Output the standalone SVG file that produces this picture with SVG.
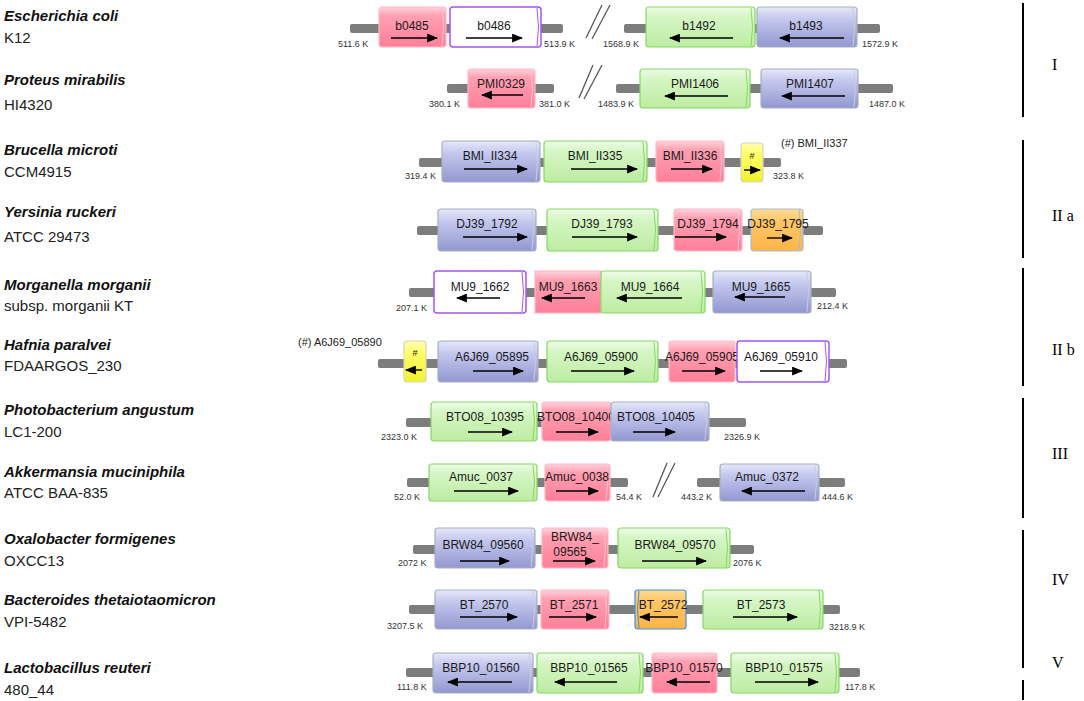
<svg xmlns="http://www.w3.org/2000/svg" width="1084" height="701" viewBox="0 0 1084 701">
<defs>
<linearGradient id="gPink" x1="0" y1="0" x2="0" y2="1"><stop offset="0" stop-color="#ffd3dc"/><stop offset="0.22" stop-color="#ffa0b2"/><stop offset="1" stop-color="#ff7f98"/></linearGradient>
<linearGradient id="gGreen" x1="0" y1="0" x2="0" y2="1"><stop offset="0" stop-color="#effce8"/><stop offset="0.25" stop-color="#d6f6c5"/><stop offset="1" stop-color="#bdeca2"/></linearGradient>
<linearGradient id="gBlue" x1="0" y1="0" x2="0" y2="1"><stop offset="0" stop-color="#e6e8f8"/><stop offset="0.3" stop-color="#c4c8ee"/><stop offset="1" stop-color="#9297d0"/></linearGradient>
<linearGradient id="gOrange" x1="0" y1="0" x2="0" y2="1"><stop offset="0" stop-color="#ffdb94"/><stop offset="0.3" stop-color="#ffc665"/><stop offset="1" stop-color="#ffb447"/></linearGradient>
<linearGradient id="gYellow" x1="0" y1="0" x2="0" y2="1"><stop offset="0" stop-color="#ffffb0"/><stop offset="0.3" stop-color="#ffff66"/><stop offset="1" stop-color="#f2f22e"/></linearGradient>
<marker id="ah" viewBox="0 0 10 8" refX="9" refY="4" markerWidth="11" markerHeight="9" markerUnits="userSpaceOnUse" orient="auto"><path d="M0,0 L10,4 L0,8 z" fill="#000"/></marker>
<style>
.bb{fill:#7d7d7d}
.gene rect{stroke-width:1.2}
.gene .cap{fill:none;stroke-width:1}
.pink rect{fill:url(#gPink);stroke:#ffb8c7}
.pink .cap{stroke:#ffc4d0}
.green rect{fill:url(#gGreen);stroke:#86d862}
.green .cap{stroke:#86d862}
.blue rect{fill:url(#gBlue);stroke:#a6aec0}
.blue .cap{stroke:#c8cde0}
.orange rect{fill:url(#gOrange);stroke:#a9bcd0}
.orange .cap{stroke:#a9bcd0}
.orangeb rect{fill:url(#gOrange);stroke:#3d8fe0}
.orangeb .cap{stroke:#3d8fe0}
.yellow rect{fill:url(#gYellow);stroke:#d4d4c0}
.white rect{fill:#fff;stroke:#a455f0;stroke-width:1.5}
.white .cap{stroke:#a455f0}
.arr{stroke:#000;stroke-width:1.4;marker-end:url(#ah)}
.lbl{font-family:"Liberation Sans",Arial,sans-serif;font-size:12px;fill:#1a1a1a;text-anchor:middle}
.hs{font-family:"Liberation Sans",Arial,sans-serif;fill:#222;text-anchor:middle}
.pos{font-family:"Liberation Sans",Arial,sans-serif;font-size:9px;fill:#333}
.note{font-family:"Liberation Sans",Arial,sans-serif;font-size:11px;fill:#222}
.sp{font-family:"Liberation Sans",Arial,sans-serif;font-size:15px;font-weight:bold;font-style:italic;fill:#111}
.st{font-family:"Liberation Sans",Arial,sans-serif;font-size:15px;fill:#222}
.slash{stroke:#555;stroke-width:1.3}
.brk{stroke:#000;stroke-width:2}
.rom{font-family:"Liberation Serif","Times New Roman",serif;font-size:16px;fill:#000}
</style>
</defs>

<g id="species">
<text class="sp" x="4" y="21">Escherichia coli</text><text class="st" x="4" y="43">K12</text>
<text class="sp" x="4" y="85">Proteus mirabilis</text><text class="st" x="4" y="110">HI4320</text>
<text class="sp" x="4" y="155">Brucella microti</text><text class="st" x="4" y="177">CCM4915</text>
<text class="sp" x="4" y="217">Yersinia ruckeri</text><text class="st" x="4" y="242">ATCC 29473</text>
<text class="sp" x="4" y="290">Morganella  morganii</text><text class="st" x="4" y="311">subsp. morganii KT</text>
<text class="sp" x="4" y="350">Hafnia paralvei</text><text class="st" x="4" y="371">FDAARGOS_230</text>
<text class="sp" x="4" y="415">Photobacterium angustum</text><text class="st" x="4" y="437">LC1-200</text>
<text class="sp" x="4" y="477">Akkermansia muciniphila</text><text class="st" x="4" y="498">ATCC BAA-835</text>
<text class="sp" x="4" y="544">Oxalobacter formigenes</text><text class="st" x="4" y="566">OXCC13</text>
<text class="sp" x="4" y="605">Bacteroides thetaiotaomicron</text><text class="st" x="4" y="627">VPI-5482</text>
<text class="sp" x="4" y="673">Lactobacillus reuteri</text><text class="st" x="4" y="695">480_44</text>
</g>

<g id="connectors">
<rect class="bb" x="350" y="24" width="213" height="9" rx="2"/>
<rect class="bb" x="624" y="24" width="256" height="9" rx="2"/>
<rect class="bb" x="447" y="84" width="107" height="9" rx="2"/>
<rect class="bb" x="616" y="84" width="277" height="9" rx="2"/>
<rect class="bb" x="419" y="158" width="362" height="9" rx="2"/>
<rect class="bb" x="417" y="226" width="406" height="9" rx="2"/>
<rect class="bb" x="409" y="288" width="427" height="9" rx="2"/>
<rect class="bb" x="378" y="359" width="469" height="9" rx="2"/>
<rect class="bb" x="406" y="418" width="340" height="9" rx="2"/>
<rect class="bb" x="407" y="478" width="221" height="9" rx="2"/>
<rect class="bb" x="697" y="478" width="148" height="9" rx="2"/>
<rect class="bb" x="413" y="545" width="341" height="9" rx="2"/>
<rect class="bb" x="409" y="605" width="431" height="9" rx="2"/>
<rect class="bb" x="406" y="668" width="454" height="9" rx="2"/>
<line class="slash" x1="586" y1="38" x2="602" y2="5"/><line class="slash" x1="592" y1="39" x2="610" y2="5"/>
<line class="slash" x1="579" y1="98" x2="593" y2="65"/><line class="slash" x1="584" y1="99" x2="602" y2="65"/>
<line class="slash" x1="653" y1="497" x2="667" y2="463"/><line class="slash" x1="658" y1="497" x2="675" y2="463"/>
<text class="pos" x="338" y="47">511.6 K</text><text class="pos" x="544" y="47">513.9 K</text>
<text class="pos" x="603" y="47">1568.9 K</text><text class="pos" x="862" y="47">1572.9 K</text>
<text class="pos" x="429" y="107">380.1 K</text><text class="pos" x="539" y="107">381.0 K</text>
<text class="pos" x="598" y="107">1483.9 K</text><text class="pos" x="869" y="107">1487.0 K</text>
<text class="pos" x="405" y="179">319.4 K</text><text class="pos" x="773" y="179">323.8 K</text>
<text class="note" x="781" y="147">(#) BMI_II337</text>
<text class="pos" x="396" y="311">207.1 K</text><text class="pos" x="817" y="309">212.4 K</text>
<text class="note" x="298" y="346">(#) A6J69_05890</text>
<text class="pos" x="381" y="440">2323.0 K</text><text class="pos" x="724" y="440">2326.9 K</text>
<text class="pos" x="394" y="500">52.0 K</text><text class="pos" x="616" y="500">54.4 K</text>
<text class="pos" x="681" y="500">443.2 K</text><text class="pos" x="822" y="500">444.6 K</text>
<text class="pos" x="398" y="566">2072 K</text><text class="pos" x="733" y="566">2076 K</text>
<text class="pos" x="387" y="629">3207.5 K</text><text class="pos" x="829" y="630">3218.9 K</text>
<text class="pos" x="397" y="690">111.8 K</text><text class="pos" x="845" y="690">117.8 K</text>
</g>

<g id="b0485" class="gene pink"><rect x="379" y="7" width="67" height="40" rx="3"/><path class="cap" d="M442,8 q3,19 0,38"/><text class="lbl" x="412" y="30">b0485</text><line class="arr" x1="391" y1="38" x2="437" y2="38"/></g>
<g id="b0486" class="gene white"><rect x="450" y="7" width="91" height="40" rx="3"/><path class="cap" d="M537,8 q3,19 0,38"/><text class="lbl" x="494" y="30">b0486</text><line class="arr" x1="466" y1="38" x2="522" y2="38"/></g>
<g id="b1492" class="gene green"><rect x="646" y="7" width="109" height="40" rx="3"/><path class="cap" d="M751,8 q3,19 0,38"/><text class="lbl" x="699" y="30">b1492</text><line class="arr" x1="733" y1="38" x2="670" y2="38"/></g>
<g id="b1493" class="gene blue"><rect x="757" y="7" width="100" height="40" rx="3"/><path class="cap" d="M853,8 q3,19 0,38"/><text class="lbl" x="806" y="30">b1493</text><line class="arr" x1="844" y1="38" x2="780" y2="38"/></g>

<g id="PMI0329" class="gene pink"><rect x="468" y="69" width="67" height="39" rx="3"/><path class="cap" d="M531,70 q3,18.5 0,37"/><text class="lbl" x="501" y="88">PMI0329</text><line class="arr" x1="523" y1="95" x2="482" y2="95"/></g>
<g id="PMI1406" class="gene green"><rect x="640" y="69" width="110" height="39" rx="3"/><path class="cap" d="M746,70 q3,18.5 0,37"/><text class="lbl" x="695" y="88">PMI1406</text><line class="arr" x1="728" y1="96" x2="665" y2="96"/></g>
<g id="PMI1407" class="gene blue"><rect x="761" y="69" width="97" height="39" rx="3"/><path class="cap" d="M854,70 q3,18.5 0,37"/><text class="lbl" x="810" y="88">PMI1407</text><line class="arr" x1="845" y1="96" x2="782" y2="96"/></g>

<g id="BMI_II334" class="gene blue"><rect x="442" y="141" width="98" height="41" rx="3"/><path class="cap" d="M536,142 q3,19.5 0,39"/><text class="lbl" x="490" y="160">BMI_II334</text><line class="arr" x1="464" y1="169" x2="527" y2="169"/></g>
<g id="BMI_II335" class="gene green"><rect x="544" y="141" width="103" height="41" rx="3"/><path class="cap" d="M643,142 q3,19.5 0,39"/><text class="lbl" x="595" y="160">BMI_II335</text><line class="arr" x1="571" y1="169" x2="637" y2="169"/></g>
<g id="BMI_II336" class="gene pink"><rect x="656" y="141" width="68" height="41" rx="3"/><path class="cap" d="M720,142 q3,19.5 0,39"/><text class="lbl" x="690" y="160">BMI_II336</text><line class="arr" x1="671" y1="169" x2="712" y2="169"/></g>
<g id="BMI_II337" class="gene yellow"><rect x="741" y="143" width="22" height="39" rx="3"/><text class="hs" x="752" y="159" font-size="9">#</text><line class="arr" x1="744" y1="170" x2="760" y2="170"/></g>

<g id="DJ39_1792" class="gene blue"><rect x="438" y="209" width="98" height="42" rx="3"/><path class="cap" d="M532,210 q3,20 0,40"/><text class="lbl" x="487" y="228">DJ39_1792</text><line class="arr" x1="463" y1="237" x2="527" y2="237"/></g>
<g id="DJ39_1793" class="gene green"><rect x="547" y="209" width="111" height="42" rx="3"/><path class="cap" d="M654,210 q3,20 0,40"/><text class="lbl" x="602" y="228">DJ39_1793</text><line class="arr" x1="572" y1="237" x2="637" y2="237"/></g>
<g id="DJ39_1794" class="gene pink"><rect x="674" y="209" width="68" height="42" rx="3"/><path class="cap" d="M738,210 q3,20 0,40"/><text class="lbl" x="708" y="228">DJ39_1794</text><line class="arr" x1="675" y1="237" x2="726" y2="237"/></g>
<g id="DJ39_1795" class="gene orange"><rect x="751" y="209" width="52" height="42" rx="3"/><path class="cap" d="M799,210 q3,20 0,40"/><text class="lbl" x="778" y="228">DJ39_1795</text><line class="arr" x1="767" y1="238" x2="792" y2="238"/></g>

<g id="MU9_1662" class="gene white"><rect x="434" y="271" width="92" height="42" rx="3"/><path class="cap" d="M522,272 q3,20 0,40"/><text class="lbl" x="480" y="291">MU9_1662</text><line class="arr" x1="500" y1="298" x2="457" y2="298"/></g>
<g id="MU9_1663" class="gene pink"><rect x="535" y="271" width="66" height="42" rx="0"/><text class="lbl" x="568" y="291">MU9_1663</text><line class="arr" x1="585" y1="298" x2="542" y2="298"/></g>
<g id="MU9_1664" class="gene green"><rect x="601" y="271" width="104" height="42" rx="3"/><path class="cap" d="M701,272 q3,20 0,40"/><text class="lbl" x="650" y="291">MU9_1664</text><line class="arr" x1="682" y1="298" x2="617" y2="298"/></g>
<g id="MU9_1665" class="gene blue"><rect x="713" y="271" width="98" height="42" rx="3"/><path class="cap" d="M807,272 q3,20 0,40"/><text class="lbl" x="761" y="291">MU9_1665</text><line class="arr" x1="785" y1="297" x2="735" y2="297"/></g>

<g id="A6J69_05890" class="gene yellow"><rect x="404" y="341" width="22" height="41" rx="3"/><text class="hs" x="415" y="356" font-size="9">#</text><line class="arr" x1="422" y1="370" x2="406" y2="370"/></g>
<g id="A6J69_05895" class="gene blue"><rect x="438" y="341" width="100" height="41" rx="3"/><path class="cap" d="M534,342 q3,19.5 0,39"/><text class="lbl" x="492" y="361">A6J69_05895</text><line class="arr" x1="473" y1="371" x2="523" y2="371"/></g>
<g id="A6J69_05900" class="gene green"><rect x="547" y="341" width="111" height="41" rx="3"/><path class="cap" d="M654,342 q3,19.5 0,39"/><text class="lbl" x="601" y="361">A6J69_05900</text><line class="arr" x1="571" y1="371" x2="634" y2="371"/></g>
<g id="A6J69_05905" class="gene pink"><rect x="669" y="341" width="66" height="41" rx="3"/><text class="lbl" x="702" y="361">A6J69_05905</text><line class="arr" x1="682" y1="371" x2="725" y2="371"/></g>
<g id="A6J69_05910" class="gene white"><rect x="737" y="341" width="92" height="41" rx="3"/><path class="cap" d="M825,342 q3,19.5 0,39"/><text class="lbl" x="781" y="361">A6J69_05910</text><line class="arr" x1="760" y1="371" x2="802" y2="371"/></g>

<g id="BTO08_10395" class="gene green"><rect x="431" y="402" width="106" height="39" rx="3"/><path class="cap" d="M533,403 q3,18.5 0,37"/><text class="lbl" x="485" y="421">BTO08_10395</text><line class="arr" x1="468" y1="432" x2="512" y2="432"/></g>
<g id="BTO08_10400" class="gene pink"><rect x="542" y="402" width="69" height="39" rx="3"/><text class="lbl" x="576" y="421">BTO08_10400</text><line class="arr" x1="556" y1="432" x2="598" y2="432"/></g>
<g id="BTO08_10405" class="gene blue"><rect x="611" y="402" width="98" height="39" rx="3"/><path class="cap" d="M705,403 q3,18.5 0,37"/><text class="lbl" x="656" y="421">BTO08_10405</text><line class="arr" x1="633" y1="432" x2="675" y2="432"/></g>

<g id="Amuc_0037" class="gene green"><rect x="429" y="464" width="108" height="37" rx="3"/><path class="cap" d="M533,465 q3,17.5 0,35"/><text class="lbl" x="481" y="481">Amuc_0037</text><line class="arr" x1="454" y1="491" x2="518" y2="491"/></g>
<g id="Amuc_0038" class="gene pink"><rect x="545" y="464" width="65" height="37" rx="3"/><path class="cap" d="M606,465 q3,17.5 0,35"/><text class="lbl" x="577" y="481">Amuc_0038</text><line class="arr" x1="556" y1="491" x2="598" y2="491"/></g>
<g id="Amuc_0372" class="gene blue"><rect x="720" y="464" width="99" height="37" rx="3"/><path class="cap" d="M815,465 q3,17.5 0,35"/><text class="lbl" x="767" y="481">Amuc_0372</text><line class="arr" x1="805" y1="491" x2="742" y2="491"/></g>

<g id="BRW84_09560" class="gene blue"><rect x="435" y="528" width="100" height="40" rx="3"/><path class="cap" d="M531,529 q3,19 0,38"/><text class="lbl" x="483" y="549">BRW84_09560</text><line class="arr" x1="460" y1="561" x2="509" y2="561"/></g>
<g id="BRW84_09565" class="gene pink"><rect x="542" y="528" width="66" height="40" rx="3"/><path class="cap" d="M604,529 q3,19 0,38"/><text class="lbl" x="575" y="541">BRW84_</text><text class="lbl" x="570" y="556">09565</text><line class="arr" x1="553" y1="561" x2="595" y2="561"/></g>
<g id="BRW84_09570" class="gene green"><rect x="618" y="528" width="112" height="40" rx="3"/><path class="cap" d="M726,529 q3,19 0,38"/><text class="lbl" x="675" y="549">BRW84_09570</text><line class="arr" x1="642" y1="561" x2="706" y2="561"/></g>

<g id="BT_2570" class="gene blue"><rect x="435" y="590" width="102" height="39" rx="3"/><path class="cap" d="M533,591 q3,18.5 0,37"/><text class="lbl" x="484" y="609">BT_2570</text><line class="arr" x1="460" y1="617" x2="517" y2="617"/></g>
<g id="BT_2571" class="gene pink"><rect x="541" y="590" width="68" height="39" rx="3"/><path class="cap" d="M605,591 q3,18.5 0,37"/><text class="lbl" x="574" y="609">BT_2571</text><line class="arr" x1="549" y1="617" x2="596" y2="617"/></g>
<g id="BT_2572" class="gene orangeb"><rect x="635" y="590" width="51" height="39" rx="3"/><path class="cap" d="M639,591 q-3,18.5 0,37"/><text class="lbl" x="663" y="609">BT_2572</text><line class="arr" x1="678" y1="617" x2="640" y2="617"/></g>
<g id="BT_2573" class="gene green"><rect x="703" y="590" width="120" height="39" rx="3"/><path class="cap" d="M819,591 q3,18.5 0,37"/><text class="lbl" x="761" y="609">BT_2573</text><line class="arr" x1="733" y1="617" x2="797" y2="617"/></g>

<g id="BBP10_01560" class="gene blue"><rect x="433" y="653" width="100" height="40" rx="3"/><path class="cap" d="M529,654 q3,19 0,38"/><text class="lbl" x="481" y="672">BBP10_01560</text><line class="arr" x1="512" y1="682" x2="448" y2="682"/></g>
<g id="BBP10_01565" class="gene green"><rect x="537" y="653" width="106" height="40" rx="3"/><path class="cap" d="M639,654 q3,19 0,38"/><text class="lbl" x="589" y="672">BBP10_01565</text><line class="arr" x1="617" y1="682" x2="555" y2="682"/></g>
<g id="BBP10_01570" class="gene pink"><rect x="652" y="653" width="65" height="40" rx="3"/><text class="lbl" x="684" y="672">BBP10_01570</text><line class="arr" x1="710" y1="682" x2="667" y2="682"/></g>
<g id="BBP10_01575" class="gene green"><rect x="731" y="653" width="108" height="40" rx="3"/><path class="cap" d="M835,654 q3,19 0,38"/><text class="lbl" x="784" y="672">BBP10_01575</text><line class="arr" x1="755" y1="682" x2="818" y2="682"/></g>

<g id="groups">
<line class="brk" x1="1023" y1="3" x2="1023" y2="117"/><text class="rom" x="1052" y="70">I</text>
<line class="brk" x1="1023" y1="140" x2="1023" y2="258"/><text class="rom" x="1052" y="221">II a</text>
<line class="brk" x1="1023" y1="268" x2="1023" y2="386"/><text class="rom" x="1052" y="355">II b</text>
<line class="brk" x1="1023" y1="398" x2="1023" y2="518"/><text class="rom" x="1052" y="459">III</text>
<line class="brk" x1="1023" y1="530" x2="1023" y2="668"/><text class="rom" x="1052" y="585">IV</text>
<line class="brk" x1="1023" y1="680" x2="1023" y2="700"/><text class="rom" x="1052" y="668">V</text>
</g>
</svg>
